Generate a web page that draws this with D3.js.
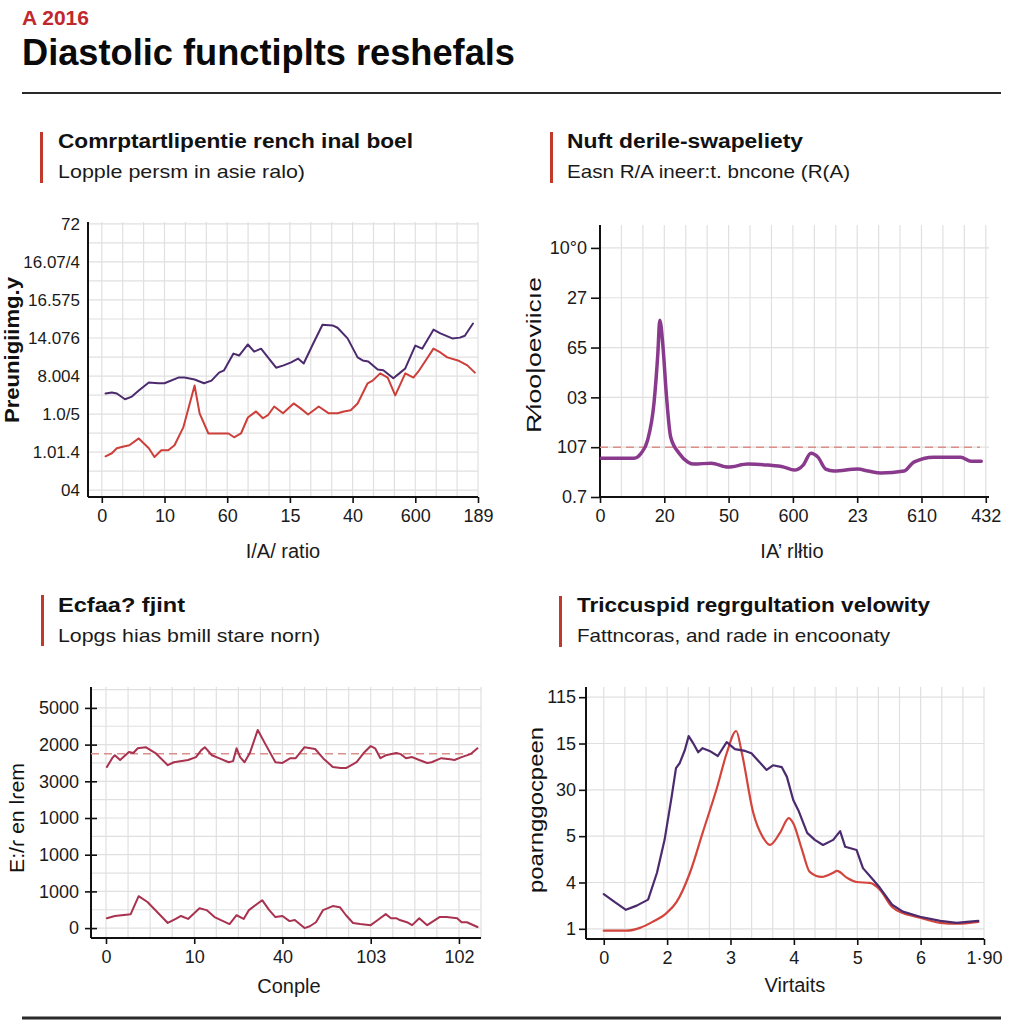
<!DOCTYPE html>
<html><head><meta charset="utf-8">
<script src="https://cdn.jsdelivr.net/npm/d3@7"></script>
<style>
html,body{margin:0;padding:0;background:#fff;}
svg{display:block;font-family:"Liberation Sans",Arial,Helvetica,sans-serif;}
</style></head>
<body><svg id="c" width="1024" height="1024"></svg>
<script>
// ---------- text ----------
const kicker = "A 2016";
const mainTitle = "Diastolic functiplts reshefals";

const titles = ["Comrptartlipentie rench inal boel", "Nuft derile-swapeliety", "Ecfaa? fjint", "Triccuspid regrgultation velowity"];
const subtitles = ["Lopple persm in asie ralo)", "Easn R/A ineer:t. bncone (R(A)", "Lopgs hias bmill stare norn)", "Fattncoras, and rade in encoonaty"];
const xTitles = ["I/A/ ratio", "IA\u2019 rl\u0142tio", "Conple", "Virtaits"];
const yTitles = ["Preunigiimg.y", "R\u2044ioo|oeviicıe", "E:/\u027E en l\u027Eem", "poarnggocpeen"];

// ---------- tick labels ----------
const p1XTicks = ["0","10","60","15","40","600","189"];
const p1YTicks = ["04","1.01.4","1.0/5","8.004","14.076","16.575","16.07/4","72"];
const p2XTicks = ["0","20","50","600","23","610","432"];
const p2YTicks = ["0.7","107","03","65","27","10\u00B00"];
const p3XTicks = ["0","10","40","103","102"];
const p3YTicks = ["0","1000","1000","1000","3000","2000","5000"];
const p4XTicks = ["0","2","3","4","5","6","1\u00B790"];
const p4YTicks = ["1","4","5","30","15","115"];

// ---------- series (x, y in tick-index units) ----------
const p1Purple = [[0.06,2.54],[0.16,2.57],[0.24,2.54],[0.37,2.39],[0.48,2.46],[0.59,2.62],[0.75,2.83],[0.90,2.81],[1.0,2.81],[1.22,2.96],[1.32,2.96],[1.48,2.91],[1.63,2.81],[1.75,2.88],[1.87,3.09],[1.95,3.15],[2.10,3.59],[2.19,3.54],[2.33,3.83],[2.43,3.64],[2.54,3.72],[2.65,3.49],[2.78,3.22],[2.90,3.28],[3.02,3.36],[3.13,3.46],[3.22,3.33],[3.37,3.85],[3.52,4.35],[3.68,4.33],[3.76,4.27],[3.92,3.99],[4.08,3.49],[4.16,3.41],[4.25,3.38],[4.40,3.17],[4.49,3.15],[4.65,2.94],[4.76,3.09],[4.84,3.20],[5.0,3.80],[5.11,3.72],[5.29,4.22],[5.40,4.12],[5.59,3.99],[5.71,4.01],[5.79,4.06],[5.92,4.38]];
const p1Red = [[0.06,0.89],[0.16,0.97],[0.24,1.10],[0.35,1.15],[0.44,1.18],[0.59,1.36],[0.75,1.10],[0.84,0.87],[0.95,1.05],[1.06,1.05],[1.16,1.18],[1.30,1.65],[1.48,2.75],[1.56,2.02],[1.70,1.49],[1.86,1.49],[2.02,1.49],[2.11,1.39],[2.22,1.49],[2.33,1.91],[2.46,2.07],[2.57,1.89],[2.65,1.97],[2.75,2.20],[2.89,2.02],[3.06,2.28],[3.17,2.15],[3.29,1.99],[3.46,2.20],[3.62,2.02],[3.76,2.02],[3.86,2.07],[3.97,2.10],[4.08,2.28],[4.24,2.81],[4.32,2.88],[4.44,3.07],[4.56,2.96],[4.68,2.49],[4.84,3.07],[4.97,2.96],[5.05,3.12],[5.29,3.72],[5.40,3.62],[5.51,3.49],[5.68,3.41],[5.83,3.28],[5.95,3.09]];

const p2Purple = [[0.02,0.78],[0.53,0.78],[0.64,0.88],[0.74,1.14],[0.84,1.89],[0.90,2.89],[0.93,3.55],[0.98,3.01],[1.03,2.09],[1.10,1.20],[1.23,0.88],[1.37,0.70],[1.46,0.66],[1.73,0.68],[1.99,0.60],[2.30,0.66],[2.61,0.64],[2.86,0.60],[3.02,0.54],[3.16,0.64],[3.28,0.88],[3.39,0.80],[3.51,0.56],[3.64,0.52],[4.01,0.56],[4.17,0.52],[4.37,0.48],[4.73,0.52],[4.88,0.70],[5.19,0.80],[5.61,0.80],[5.77,0.72],[5.93,0.72]];
const p2Ref = 1;

const p3Upper = [[0.01,4.39],[0.07,4.63],[0.10,4.71],[0.16,4.58],[0.26,4.80],[0.31,4.77],[0.36,4.90],[0.45,4.93],[0.56,4.77],[0.70,4.44],[0.77,4.52],[0.93,4.58],[1.02,4.66],[1.08,4.85],[1.12,4.93],[1.20,4.71],[1.28,4.63],[1.39,4.52],[1.44,4.55],[1.48,4.90],[1.52,4.66],[1.57,4.52],[1.63,4.77],[1.72,5.40],[1.80,5.04],[1.92,4.52],[2.00,4.50],[2.09,4.63],[2.15,4.63],[2.25,4.93],[2.37,4.88],[2.46,4.63],[2.57,4.39],[2.66,4.36],[2.72,4.36],[2.84,4.52],[2.92,4.77],[3.00,4.96],[3.05,4.90],[3.11,4.63],[3.17,4.71],[3.29,4.77],[3.34,4.74],[3.40,4.63],[3.47,4.66],[3.55,4.58],[3.64,4.50],[3.69,4.52],[3.80,4.63],[3.90,4.60],[3.95,4.58],[4.03,4.66],[4.13,4.74],[4.21,4.90]];
const p3Lower = [[0.01,0.27],[0.10,0.33],[0.28,0.38],[0.37,0.87],[0.47,0.71],[0.58,0.44],[0.70,0.14],[0.79,0.25],[0.85,0.33],[0.93,0.25],[1.06,0.54],[1.14,0.49],[1.23,0.30],[1.40,0.11],[1.48,0.35],[1.56,0.25],[1.62,0.49],[1.77,0.76],[1.85,0.49],[1.92,0.30],[2.00,0.33],[2.08,0.19],[2.14,0.22],[2.25,0.0],[2.31,0.05],[2.38,0.16],[2.46,0.49],[2.57,0.60],[2.65,0.57],[2.72,0.35],[2.80,0.14],[2.88,0.11],[3.00,0.08],[3.08,0.22],[3.17,0.38],[3.23,0.27],[3.29,0.27],[3.33,0.22],[3.41,0.16],[3.47,0.08],[3.55,0.27],[3.64,0.08],[3.78,0.30],[3.86,0.30],[3.98,0.27],[4.03,0.16],[4.09,0.16],[4.21,0.03]];
const p3Ref = 4.75;

const p4Purple = [[0,0.75],[0.17,0.58],[0.35,0.41],[0.52,0.50],[0.70,0.63],[0.84,1.21],[0.96,1.92],[1.07,2.84],[1.14,3.47],[1.20,3.58],[1.28,3.86],[1.34,4.16],[1.41,4.01],[1.49,3.81],[1.56,3.90],[1.67,3.84],[1.80,3.73],[1.94,4.03],[2.07,3.88],[2.23,3.84],[2.33,3.79],[2.43,3.64],[2.57,3.43],[2.67,3.53],[2.81,3.49],[2.89,3.28],[2.99,2.78],[3.07,2.56],[3.21,2.07],[3.33,1.92],[3.46,1.81],[3.62,1.92],[3.73,2.11],[3.81,1.77],[3.99,1.70],[4.09,1.31],[4.25,1.06],[4.36,0.88],[4.55,0.52],[4.72,0.37],[4.99,0.26],[5.31,0.17],[5.57,0.13],[5.73,0.15],[5.91,0.17]];
const p4Red = [[0,-0.04],[0.36,-0.04],[0.57,0.02],[0.77,0.15],[0.99,0.34],[1.15,0.58],[1.36,1.21],[1.56,2.07],[1.79,3.06],[1.94,3.79],[2.09,4.27],[2.18,3.79],[2.36,2.50],[2.51,1.98],[2.62,1.81],[2.78,2.07],[2.92,2.39],[2.99,2.28],[3.13,1.70],[3.25,1.23],[3.44,1.12],[3.62,1.21],[3.68,1.25],[3.84,1.10],[3.99,1.01],[4.20,0.99],[4.36,0.84],[4.55,0.47],[4.72,0.34],[4.99,0.24],[5.31,0.13],[5.57,0.11],[5.91,0.15]];

// ---------- drawing ----------
const svg = d3.select("#c");
const FONT = "\"Liberation Sans\", Arial, Helvetica, sans-serif";

svg.append("text").attr("x",22).attr("y",25).attr("fill","#c0282d")
  .attr("font-size",21).attr("font-weight","bold").text(kicker);
svg.append("text").attr("x",22).attr("y",65).attr("fill","#0a0a0a")
  .attr("font-size",37).attr("font-weight","bold")
  .attr("textLength",493).attr("lengthAdjust","spacingAndGlyphs").text(mainTitle);
svg.append("line").attr("x1",22).attr("x2",1001).attr("y1",93).attr("y2",93)
  .attr("stroke","#2a2a2a").attr("stroke-width",2);
svg.append("line").attr("x1",22).attr("x2",1001).attr("y1",1018).attr("y2",1018)
  .attr("stroke","#2a2a2a").attr("stroke-width",3);

function header(barX, barY, tx, ty, title, tw, sub, sw){
  svg.append("rect").attr("x",barX).attr("y",barY).attr("width",3).attr("height",51).attr("fill","#c0392b");
  svg.append("text").attr("x",tx).attr("y",ty).attr("font-size",20).attr("font-weight","bold")
    .attr("fill","#111").attr("textLength",tw).attr("lengthAdjust","spacingAndGlyphs").text(title);
  svg.append("text").attr("x",tx).attr("y",ty+30).attr("font-size",19)
    .attr("fill","#1a1a1a").attr("textLength",sw).attr("lengthAdjust","spacingAndGlyphs").text(sub);
}
header(40,132,58,148,titles[0],355,subtitles[0],247);
header(550,132,567,148,titles[1],236,subtitles[1],283);
header(41,595,58,612,titles[2],127,subtitles[2],262);
header(559,596,577,612,titles[3],353,subtitles[3],313);

function panel(o){
  const x = d3.scaleLinear().domain(o.xd).range(o.xr);
  const y = d3.scaleLinear().domain(o.yd).range(o.yr);
  const g = svg.append("g");
  // grid
  const gx = d3.range(0, o.xd[1]+1e-6, o.gxStep).filter(v=>v>=0);
  const gy = d3.range(o.gyStart, o.yd[1]+1e-6, o.gyStep).filter(v=>v>=o.yd[0]);
  g.selectAll(".vg").data(gx).join("line")
    .attr("x1",d=>x(d)).attr("x2",d=>x(d)).attr("y1",o.yr[0]).attr("y2",o.yr[1])
    .attr("stroke","#e0e0e0").attr("stroke-width",1.2);
  g.selectAll(".hg").data(gy).join("line")
    .attr("x1",o.xr[0]).attr("x2",o.xr[1]).attr("y1",d=>y(d)).attr("y2",d=>y(d))
    .attr("stroke","#e0e0e0").attr("stroke-width",1.2);
  // axes
  const xa = d3.axisBottom(x).tickValues(d3.range(o.xTicks.length))
    .tickFormat(i=>o.xTicks[i]).tickSize(6).tickPadding(6);
  const xg = g.append("g").attr("transform",`translate(0,${o.yr[0]})`).call(xa);
  xg.select(".domain").attr("stroke","#111").attr("stroke-width",2).attr("d",`M${o.xr[0]},0H${o.xr[1]}`);
  xg.selectAll(".tick line").attr("stroke","#111").attr("stroke-width",1.6);
  xg.selectAll("text").attr("font-size",18).attr("fill","#1a1a1a").attr("font-family",FONT);
  const ya = d3.axisLeft(y).tickValues(d3.range(o.yTicks.length))
    .tickFormat(i=>o.yTicks[i]).tickSize(o.yTickSize).tickPadding(o.yPad);
  const yg = g.append("g").attr("transform",`translate(${o.xr[0]},0)`).call(ya);
  yg.select(".domain").attr("stroke","#111").attr("stroke-width",2).attr("d",`M0,${o.yr[0]}V${o.yr[1]}`);
  yg.selectAll(".tick line").attr("stroke","#111").attr("stroke-width",1.6);
  if(o.cross) yg.selectAll(".tick line").attr("x2",-6).attr("x1",6);
  yg.selectAll("text").attr("font-size",o.yFont||18).attr("fill","#1a1a1a").attr("font-family",FONT);
  // reference line
  if(o.ref!==undefined){
    g.append("line").attr("x1",o.xr[0]).attr("x2",o.refEnd).attr("y1",y(o.ref)).attr("y2",y(o.ref))
      .attr("stroke","#d9908a").attr("stroke-width",1.5).attr("stroke-dasharray","8,5");
  }
  // series
  o.series.forEach(s=>{
    const line = d3.line().x(d=>x(d[0])).y(d=>y(d[1])).curve(s.curve||d3.curveLinear);
    g.append("path").datum(s.data).attr("d",line).attr("fill","none")
      .attr("stroke",s.color).attr("stroke-width",s.w).attr("stroke-linejoin","round").attr("stroke-linecap","round");
  });
  // titles
  g.append("text").attr("x",o.xt[0]).attr("y",o.xt[1]).attr("text-anchor","middle")
    .attr("font-size",20).attr("fill","#1a1a1a").text(o.xTitle);
  g.append("text").attr("transform",`translate(${o.yt[0]},${o.yt[1]}) rotate(-90)`).attr("text-anchor","middle")
    .attr("font-size",o.ytSize||21).attr("font-weight",o.ytBold?"bold":"normal").attr("fill","#111")
    .attr("textLength",o.ytLen).attr("lengthAdjust","spacingAndGlyphs").text(o.yTitle);
}

panel({xd:[-0.22,6], xr:[88,478], yd:[-0.18,7.05], yr:[497,222],
  gxStep:1/3, gyStart:0, gyStep:0.5, xTicks:p1XTicks, yTicks:p1YTicks, yTickSize:0, yPad:8, yFont:17,
  series:[{data:p1Purple,color:"#4b2a6e",w:2},{data:p1Red,color:"#cc3f3a",w:2}],
  xTitle:xTitles[0], xt:[283,558], yTitle:yTitles[0], yt:[19,350], ytBold:true, ytSize:21, ytLen:146});

panel({xd:[0,6.05], xr:[600,989], yd:[0,5.46], yr:[497,225],
  gxStep:1/3, gyStart:1, gyStep:1, xTicks:p2XTicks, yTicks:p2YTicks, yTickSize:9, yPad:4,
  ref:p2Ref, refEnd:980,
  series:[{data:p2Purple,color:"#8a3a8c",w:3.5,curve:d3.curveMonotoneX}],
  xTitle:xTitles[1], xt:[792,558], yTitle:yTitles[1], yt:[541,355], ytLen:156});

panel({xd:[-0.17,4.25], xr:[91,481], yd:[-0.27,6.57], yr:[938,687],
  gxStep:0.25, gyStart:0, gyStep:0.5, xTicks:p3XTicks, yTicks:p3YTicks, yTickSize:6, yPad:6, cross:true,
  ref:p3Ref, refEnd:473,
  series:[{data:p3Upper,color:"#a8324f",w:2},{data:p3Lower,color:"#a8324f",w:2}],
  xTitle:xTitles[2], xt:[289,993], yTitle:yTitles[2], yt:[24,818], ytLen:110});

panel({xd:[-0.28,6], xr:[586,984], yd:[-0.22,5.22], yr:[939,687],
  gxStep:1/3, gyStart:0, gyStep:1, xTicks:p4XTicks, yTicks:p4YTicks, yTickSize:7, yPad:3,
  series:[{data:p4Red,color:"#d2443c",w:2.2,curve:d3.curveMonotoneX},
          {data:p4Purple,color:"#4b2a6e",w:2.2,curve:d3.curveLinear}],
  xTitle:xTitles[3], xt:[795,992], yTitle:yTitles[3], yt:[543,810], ytLen:166});
</script></body></html>
